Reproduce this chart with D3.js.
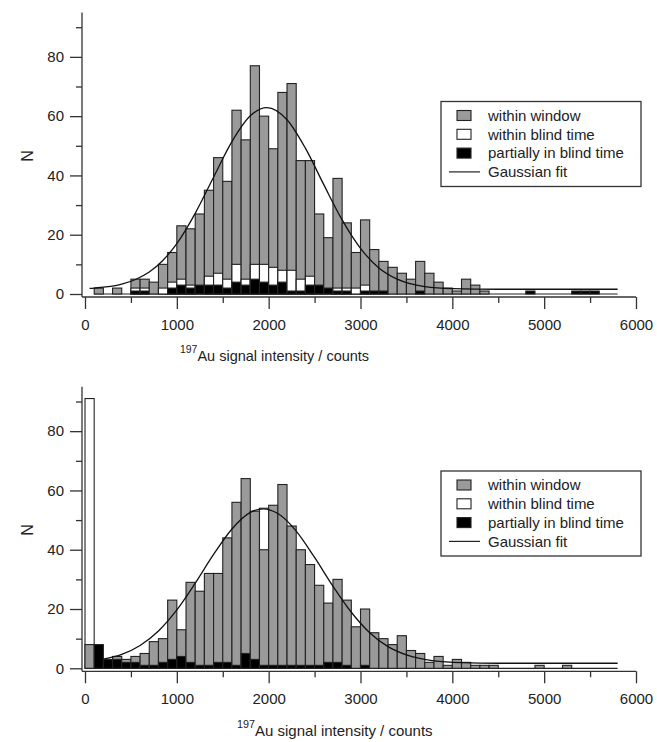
<!DOCTYPE html>
<html>
<head>
<meta charset="utf-8">
<script src="https://cdn.jsdelivr.net/npm/d3@7"></script>
<style>
  body { margin: 0; background: #fff; }
  svg text { font-family: "Liberation Sans", Arial, sans-serif; fill: #222; }
</style>
</head>
<body>
<div id="grafico"></div>
<script>
// bin start (counts), bins are 100 wide
var bins = [0,100,200,300,400,500,600,700,800,900,1000,1100,1200,1300,1400,1500,1600,1700,1800,1900,
  2000,2100,2200,2300,2400,2500,2600,2700,2800,2900,3000,3100,3200,3300,3400,3500,3600,3700,3800,3900,
  4000,4100,4200,4300,4400,4500,4600,4700,4800,4900,5000,5100,5200,5300,5400,5500,5600,5700];
var binWidth = 100;

// upper histogram (bars overlaid from zero)
var topWindow  = [0,2,0,2,0,5,5,4,10,14,23,22,27,35,46,38,62,52,77,60,
  49,68,71,45,45,27,19,39,24,14,25,15,11,9,7,5,11,7,4,2,
  1,5,3,1,0,0,0,0,0,0,0,0,0,0,0,0,0,0];
var topBlind   = [0,0,0,0,0,2,2,0,2,4,5,3,0,6,7,5,10,5,10,10,
  9,8,8,5,6,0,0,2,2,2,3,0,0,0,0,0,0,0,0,0,
  0,0,0,0,0,0,0,0,0,0,0,0,0,0,0,0,0,0];
var topPartial = [0,0,0,0,0,1,1,0,0,2,3,2,3,3,3,2,4,3,5,4,
  3,4,1,1,3,3,2,1,1,0,1,1,1,0,0,0,1,0,0,0,
  0,0,0,0,0,0,0,0,1,0,0,0,0,1,1,1,0,0];
var topFitX = [50,100,400,550,700,850,1000,1200,1400,1600,1800,1980,2200,2400,2600,2800,3000,3200,3400,3700,4000,4500,5800];
var topFitY = [1.9,2.0,3.3,4.9,7.4,11.4,17.0,27.2,39.4,51.4,60.1,62.9,58.8,49.2,36.9,25.0,15.4,8.8,5.0,2.5,1.8,1.6,1.6];

// lower histogram
var botWindow  = [8,0,0,4,3,4,5,9,10,23,13,29,26,32,32,44,56,64,53,40,
  55,62,48,40,35,28,22,30,23,14,20,12,10,8,11,6,5,2,4,1,
  3,2,1,1,1,0,0,0,0,1,0,0,1,0,0,0,0,0];
var botBlind   = [91,0,0,0,0,0,0,0,0,0,0,0,0,0,0,0,0,0,0,54,
  0,0,0,0,0,0,0,0,0,0,0,0,0,0,0,0,0,0,0,0,
  0,0,0,0,0,0,0,0,0,0,0,0,0,0,0,0,0,0];
var botPartial = [0,8,3,3,2,2,1,1,2,3,4,2,1,1,2,2,1,5,3,1,
  1,1,1,1,1,1,2,2,1,0,1,0,0,0,0,0,0,0,0,0,
  0,0,0,0,0,0,0,0,0,0,0,0,0,0,0,0,0,0];
var botFitX = [200,400,600,800,1000,1200,1400,1600,1800,1940,2100,2300,2500,2700,2900,3100,3300,3500,3800,4100,4500,5800];
var botFitY = [3.1,4.7,7.7,12.6,19.7,28.7,38.4,47.0,52.6,53.8,52.2,46.3,37.4,27.7,18.9,12.0,7.3,4.5,2.5,1.9,1.7,1.7];

var xTicks = [0,1000,2000,3000,4000,5000,6000];
var xMinor = [500,1500,2500,3500,4500,5500];
var yTicks = [0,20,40,60,80];
var yMinor = [10,30,50,70,90];
var legendNames = ["within window", "within blind time", "partially in blind time", "Gaussian fit"];
var fills = ["#9a9a9a", "#ffffff", "#000000"];

var svgWidth = 657;
var svgHeight = 742;

var svg = d3.select("#grafico")
  .append("svg")
  .attr("width", svgWidth)
  .attr("height", svgHeight);

function drawPanel(p) {
  var g = svg.append("g");

  var xScale = d3.scaleLinear().domain([0, 6000]).range([85, 636]);
  var yScale = d3.scaleLinear().domain([0, 95]).range([p.y0, p.y0 - 281.6]);

  // bars: per bin, overlaid from zero, tallest drawn first
  var rows = bins.map(function(b, i) {
    return [
      { k: 0, v: p.win[i], b: b },
      { k: 1, v: p.blind[i], b: b },
      { k: 2, v: p.part[i], b: b }
    ].filter(function(d) { return d.v > 0; })
     .sort(function(a, c) { return c.v - a.v; });
  });

  // zero line under the empty bins
  g.append("line")
    .attr("x1", xScale(p.firstBin)).attr("x2", xScale(5800))
    .attr("y1", yScale(0)).attr("y2", yScale(0))
    .attr("stroke", "#222").attr("stroke-width", 1.2);

  g.selectAll(".bin")
    .data(rows)
    .enter()
    .append("g")
    .attr("class", "bin")
    .selectAll("rect")
    .data(function(d) { return d; })
    .enter()
    .append("rect")
    .attr("x", d => xScale(d.b))
    .attr("y", d => yScale(d.v))
    .attr("width", d => xScale(d.b + binWidth) - xScale(d.b))
    .attr("height", d => yScale(0) - yScale(d.v))
    .attr("fill", d => fills[d.k])
    .attr("stroke", "#222")
    .attr("stroke-width", 1.1);

  // gaussian fit
  var line = d3.line()
    .x((d, i) => xScale(p.fitX[i]))
    .y(d => yScale(d))
    .curve(d3.curveMonotoneX);
  g.append("path")
    .attr("d", line(p.fitY))
    .attr("fill", "none")
    .attr("stroke", "#111")
    .attr("stroke-width", 1.3);

  // axes (offset a few px from the data origin)
  var axisY = p.y0 + 3;
  var axisX = 82;

  var xAxis = d3.axisBottom(xScale).tickValues(xTicks).tickSize(12).tickPadding(10)
    .tickSizeOuter(0).tickFormat(d3.format("d"));
  var xMinorAxis = d3.axisBottom(xScale).tickValues(xMinor).tickSize(6).tickFormat("").tickSizeOuter(0);
  var gx = g.append("g").attr("transform", "translate(0," + axisY + ")").call(xAxis);
  var gxm = g.append("g").attr("transform", "translate(0," + axisY + ")").call(xMinorAxis);

  var yAxis = d3.axisLeft(yScale).tickValues(yTicks).tickSize(12).tickPadding(6)
    .tickSizeOuter(0).tickFormat(d3.format("d"));
  var yMinorAxis = d3.axisLeft(yScale).tickValues(yMinor).tickSize(6).tickFormat("").tickSizeOuter(0);
  var gy = g.append("g").attr("transform", "translate(" + axisX + ",0)").call(yAxis);
  var gym = g.append("g").attr("transform", "translate(" + axisX + ",0)").call(yMinorAxis);

  [gx, gxm, gy, gym].forEach(function(a) {
    a.select(".domain").remove();
    a.selectAll("line").attr("stroke", "#333").attr("stroke-width", 1.3);
    a.selectAll("text").attr("font-size", 15).attr("fill", "#222")
      .style("font-family", '"Liberation Sans", Arial, sans-serif');
  });

  g.append("line")
    .attr("x1", axisX).attr("x2", xScale(6000))
    .attr("y1", axisY).attr("y2", axisY)
    .attr("stroke", "#333").attr("stroke-width", 1.3);
  g.append("line")
    .attr("x1", axisX).attr("x2", axisX)
    .attr("y1", yScale(95)).attr("y2", axisY)
    .attr("stroke", "#333").attr("stroke-width", 1.3);

  // axis titles
  var t = g.append("text")
    .attr("x", p.titleX)
    .attr("y", p.titleY)
    .attr("font-size", p.titleSize);
  t.append("tspan").attr("font-size", p.titleSize * 0.72).attr("dy", -8).text("197");
  t.append("tspan").attr("dy", 8).text("Au signal intensity / counts");

  g.append("text")
    .attr("transform", "translate(" + 33 + "," + p.nY + ") rotate(-90)")
    .attr("text-anchor", "middle")
    .attr("font-size", 16)
    .text("N");

  // legend
  var lg = g.append("g").attr("transform", "translate(" + 441 + "," + p.legY + ")");
  lg.append("rect")
    .attr("x", 0).attr("y", 0).attr("width", 200).attr("height", 85)
    .attr("fill", "#fff").attr("stroke", "#333").attr("stroke-width", 1.3);
  legendNames.forEach(function(name, i) {
    var cy = 14 + i * 18.8;
    if (i < 3) {
      lg.append("rect")
        .attr("x", 16).attr("y", cy - 5).attr("width", 14).attr("height", 10)
        .attr("fill", fills[i]).attr("stroke", "#222").attr("stroke-width", 1.1);
    } else {
      lg.append("line")
        .attr("x1", 8).attr("x2", 39).attr("y1", cy).attr("y2", cy)
        .attr("stroke", "#222").attr("stroke-width", 1.2);
    }
    lg.append("text")
      .attr("x", 47).attr("y", cy).attr("dy", "0.35em")
      .attr("font-size", 15)
      .text(name);
  });
}

drawPanel({
  y0: 294, win: topWindow, blind: topBlind, part: topPartial,
  fitX: topFitX, fitY: topFitY, firstBin: 100,
  titleX: 180, titleY: 361, titleSize: 14.5, nY: 156, legY: 101.5
});
drawPanel({
  y0: 668.3, win: botWindow, blind: botBlind, part: botPartial,
  fitX: botFitX, fitY: botFitY, firstBin: 0,
  titleX: 237, titleY: 736, titleSize: 15, nY: 530, legY: 471
});
</script>
</body>
</html>
